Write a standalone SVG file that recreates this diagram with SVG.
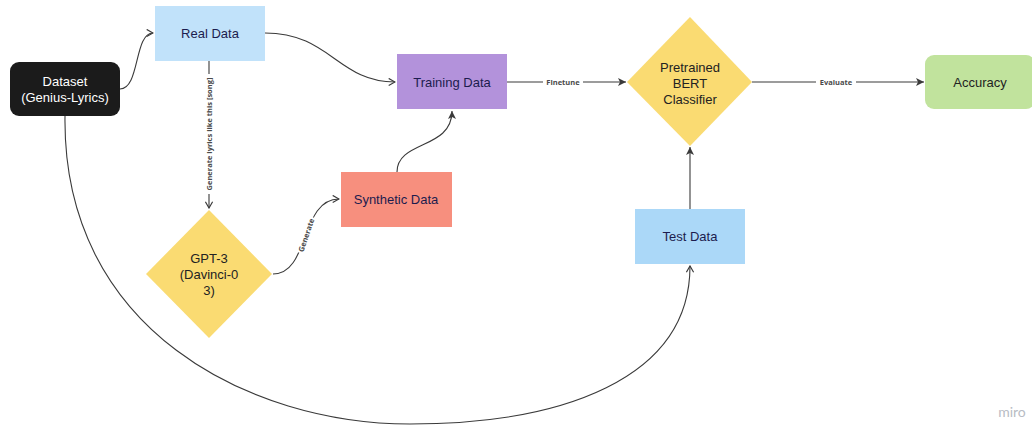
<svg xmlns="http://www.w3.org/2000/svg" width="1032" height="425" viewBox="0 0 1032 425">
<style>
.node text{font-family:"Liberation Sans",Arial,sans-serif;font-size:13px;text-anchor:middle;dominant-baseline:central}
.nav{fill:#1c1c4e}
.blk{fill:#222}
.edge path{fill:none;stroke:#3a3a3a;stroke-width:1.1}
.lbl{font-family:"Open Sans","DejaVu Sans",sans-serif;font-size:7.5px;font-weight:bold;fill:#4a4a4a;text-anchor:middle;dominant-baseline:central}
.lblbg{fill:#fff}
</style>
<defs>
<marker id="open" viewBox="0 0 10 10" refX="9" refY="5" markerWidth="9" markerHeight="9" markerUnits="userSpaceOnUse" orient="auto">
<path d="M2,1 L9,5 L2,9" fill="none" stroke="#3a3a3a" stroke-width="1.3"/>
</marker>
<marker id="fill" viewBox="0 0 10 10" refX="9" refY="5" markerWidth="10" markerHeight="10" markerUnits="userSpaceOnUse" orient="auto">
<path d="M1,1 L9,5 L1,9 L3,5 Z" fill="#3a3a3a"/>
</marker>
</defs>
<rect width="1032" height="425" fill="#fff"/>

<g id="connectors" class="edge">
<path d="M120,89 C140,89 134,33 153,33" marker-end="url(#open)"/>
<path d="M265,33 C330,33 338,82 395,82" marker-end="url(#open)"/>
<path d="M209,61 L209,208" marker-end="url(#open)"/>
<path d="M273,274 C310,274 300,199 339,199" marker-end="url(#open)"/>
<path d="M397,172 C397,140 452,150 452,111" marker-end="url(#fill)"/>
<path d="M507,82 L626,82" marker-end="url(#fill)"/>
<path d="M752,82 L924,82" marker-end="url(#fill)"/>
<path d="M690,209 L690,147" marker-end="url(#fill)"/>
<path d="M65,116 C62,330 250,424 410,424 C560,424 690,380 690,266" marker-end="url(#open)"/>
<rect class="lblbg" x="543" y="77" width="40" height="10"/>
<text class="lbl" x="563" y="82">Finetune</text>
<rect class="lblbg" x="816" y="77" width="40" height="10"/>
<text class="lbl" x="836" y="82">Evaluate</text>
<g transform="translate(209,134) rotate(-90)">
<rect class="lblbg" x="-60" y="-5" width="120" height="10"/>
<text class="lbl" x="0" y="0">Generate lyrics like this [song]</text>
</g>
<g transform="translate(306,235) rotate(-71)">
<rect class="lblbg" x="-19" y="-5" width="38" height="10"/>
<text class="lbl" x="0" y="0">Generate</text>
</g>
</g>

<g id="dataset" class="node">
<rect x="10" y="62" width="110" height="54" rx="9" fill="#1b1b1b"/>
<text x="65" y="81" fill="#fff">Dataset</text>
<text x="65" y="97" fill="#fff">(Genius-Lyrics)</text>
</g>
<g id="real-data" class="node">
<rect x="155" y="6" width="110" height="55" fill="#c1e2fa"/>
<text class="nav" x="210" y="33">Real Data</text>
</g>
<g id="training-data" class="node">
<rect x="397" y="54" width="110" height="55" fill="#b392db"/>
<text class="nav" x="452" y="82">Training Data</text>
</g>
<g id="synthetic-data" class="node">
<rect x="341" y="172" width="111" height="55" fill="#f78f7e"/>
<text class="nav" x="396" y="199">Synthetic Data</text>
</g>
<g id="gpt3" class="node">
<polygon points="209,210 272,274 209,338 146,274" fill="#fadb72"/>
<text class="blk" x="209" y="258">GPT-3</text>
<text class="blk" x="209" y="274">(Davinci-0</text>
<text class="blk" x="209" y="290">3)</text>
</g>
<g id="bert" class="node">
<polygon points="690,17 752,82 690,146 627,82" fill="#fadb72"/>
<text class="blk" x="690" y="67">Pretrained</text>
<text class="blk" x="690" y="83">BERT</text>
<text class="blk" x="690" y="99">Classifier</text>
</g>
<g id="accuracy" class="node">
<rect x="925" y="55" width="110" height="54" rx="9" fill="#c1e39d"/>
<text class="blk" x="980" y="82">Accuracy</text>
</g>
<g id="test-data" class="node">
<rect x="635" y="209" width="110" height="55" fill="#abd8f8"/>
<text class="nav" x="690" y="236">Test Data</text>
</g>
<text x="1012" y="411" font-family="Lato,'Open Sans',sans-serif" font-size="14" fill="#b8bcc4" text-anchor="middle" dominant-baseline="central">miro</text>
</svg>
